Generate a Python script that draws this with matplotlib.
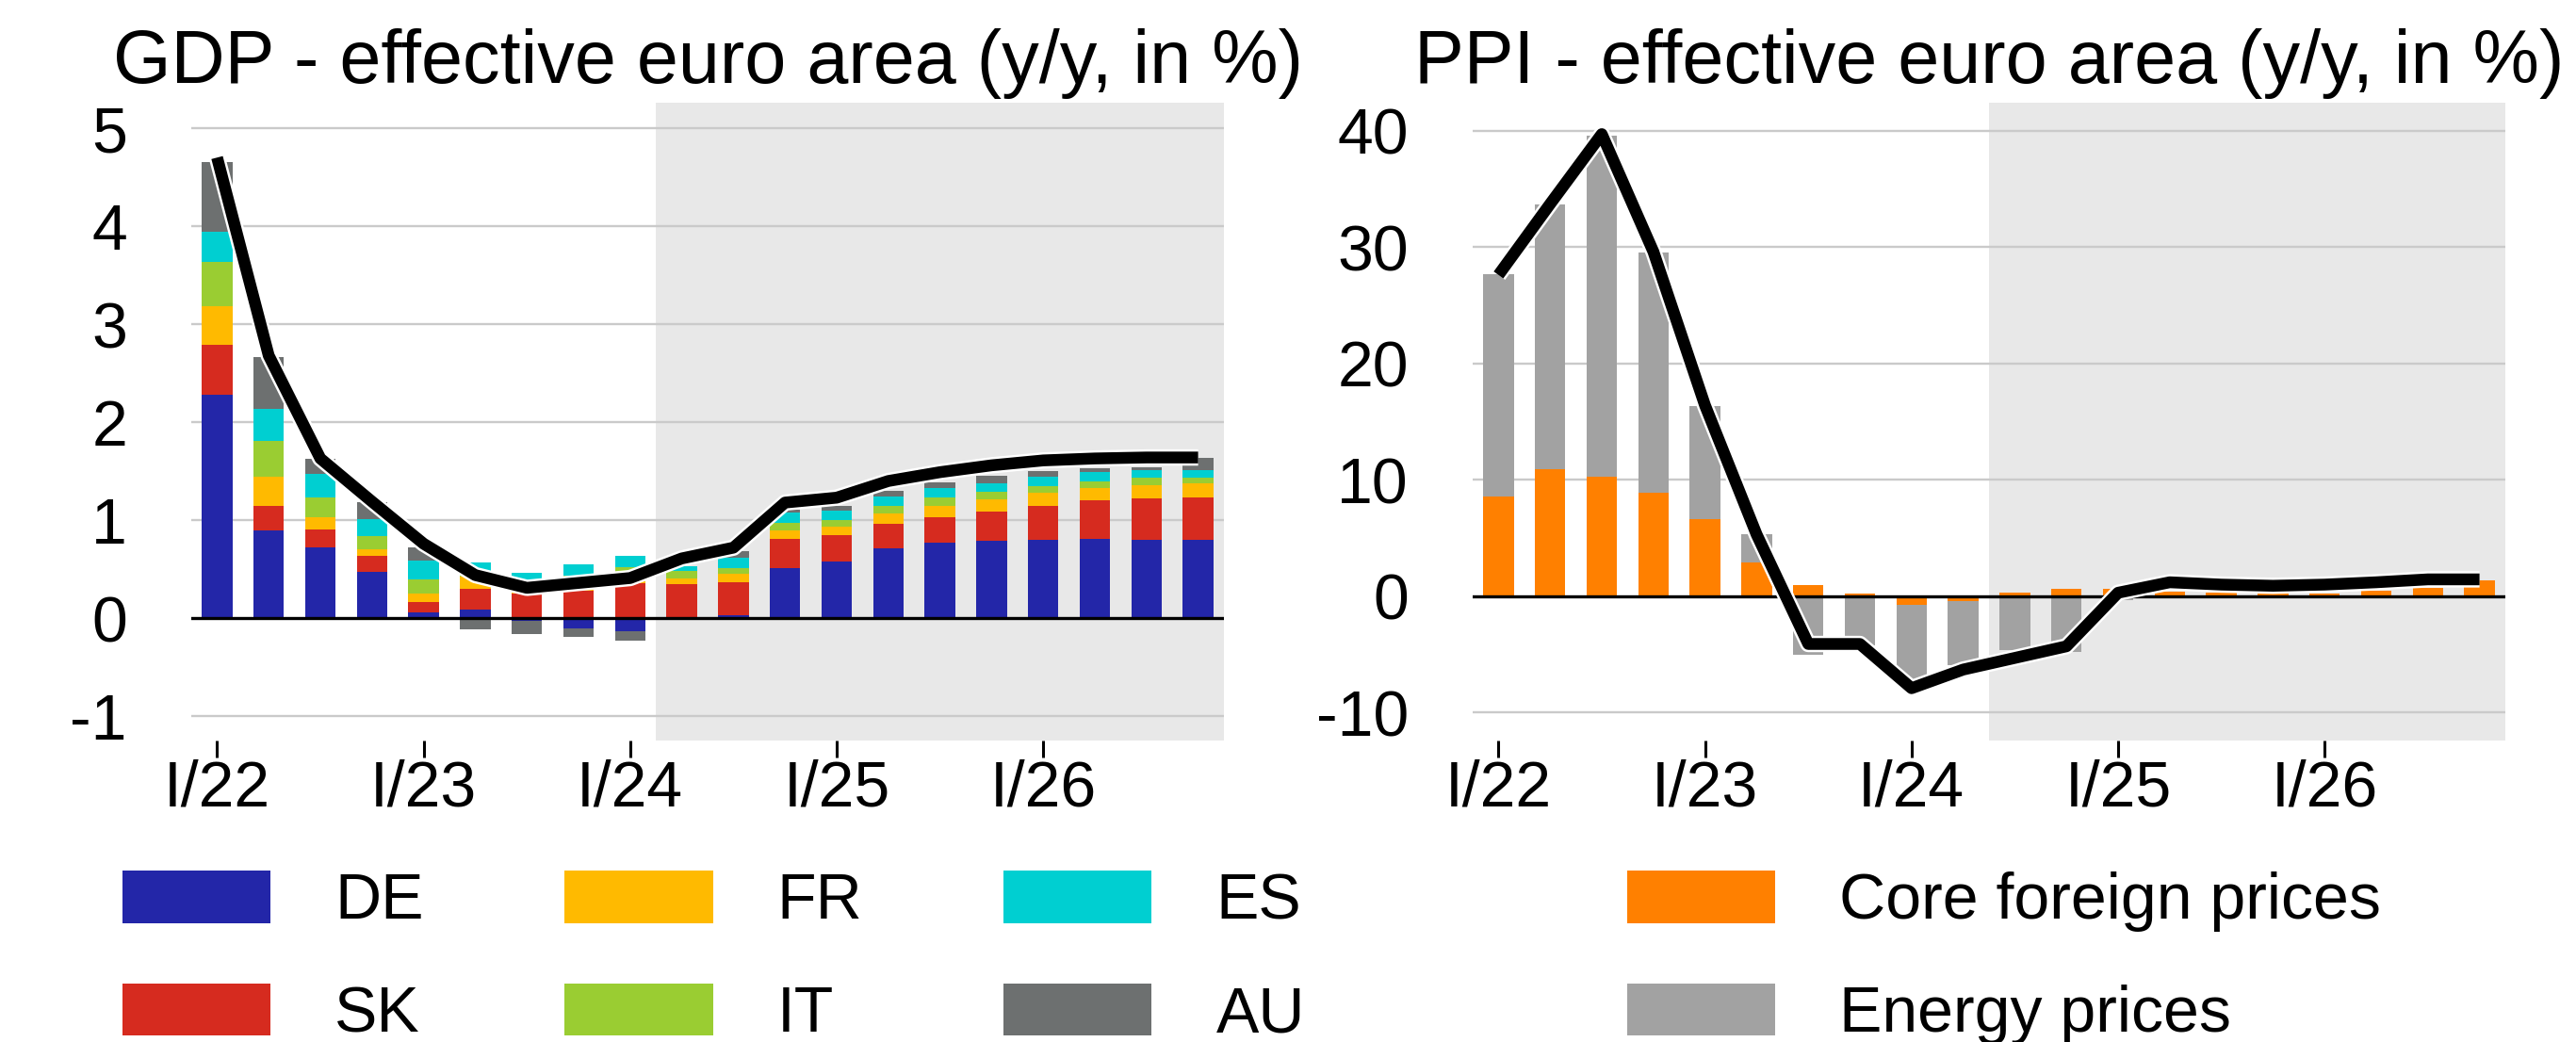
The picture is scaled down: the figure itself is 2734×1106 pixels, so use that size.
import matplotlib
matplotlib.use("Agg")
import matplotlib.pyplot as plt
import matplotlib.patheffects as pe
from matplotlib.patches import Patch
import numpy as np

plt.rcParams["font.family"] = ["Liberation Sans", "DejaVu Sans"]

# ---- data -------------------------------------------------------------
quarters = ["I/22", "II/22", "III/22", "IV/22", "I/23", "II/23", "III/23", "IV/23",
            "I/24", "II/24", "III/24", "IV/24", "I/25", "II/25", "III/25", "IV/25",
            "I/26", "II/26", "III/26", "IV/26"]
tick_labels = ["I/22", "I/23", "I/24", "I/25", "I/26"]

gdp_de = [2.28, 0.90, 0.72, 0.47, 0.06, 0.09, -0.03, -0.10, -0.13, -0.01,
          0.03, 0.51, 0.58, 0.71, 0.77, 0.79, 0.80, 0.81, 0.80, 0.80]
gdp_sk = [0.51, 0.25, 0.19, 0.17, 0.11, 0.21, 0.25, 0.28, 0.36, 0.35,
          0.34, 0.30, 0.27, 0.25, 0.26, 0.30, 0.35, 0.39, 0.42, 0.43]
gdp_fr = [0.39, 0.29, 0.12, 0.06, 0.08, 0.12, 0.08, 0.08, 0.09, 0.06,
          0.08, 0.09, 0.08, 0.11, 0.12, 0.12, 0.13, 0.13, 0.14, 0.15]
gdp_it = [0.46, 0.37, 0.20, 0.14, 0.15, 0.02, 0.04, 0.07, 0.07, 0.07,
          0.06, 0.07, 0.07, 0.08, 0.08, 0.08, 0.07, 0.07, 0.07, 0.05]
gdp_es = [0.30, 0.33, 0.24, 0.17, 0.19, 0.13, 0.09, 0.12, 0.12, 0.05,
          0.11, 0.11, 0.10, 0.09, 0.10, 0.09, 0.09, 0.09, 0.08, 0.08]
gdp_au = [0.71, 0.52, 0.16, 0.17, 0.13, -0.11, -0.13, -0.09, -0.10, 0.00,
          0.06, 0.03, 0.05, 0.06, 0.06, 0.07, 0.06, 0.04, 0.03, 0.13]
gdp_total = [4.70, 2.68, 1.63, 1.19, 0.76, 0.44, 0.31, 0.36, 0.41, 0.61,
             0.72, 1.18, 1.23, 1.40, 1.49, 1.56, 1.61, 1.63, 1.64, 1.64]

ppi_core = [8.6, 10.9, 10.25, 8.9, 6.6, 2.9, 1.0, 0.2, -0.7, -0.4,
            0.3, 0.6, 0.6, 0.4, 0.3, 0.2, 0.25, 0.5, 0.7, 1.35]
ppi_energy = [19.1, 22.75, 29.35, 20.6, 9.7, 2.4, -5.0, -4.2, -6.6, -5.5,
              -4.6, -4.8, -0.3, 0.0, 0.0, 0.0, 0.0, 0.0, 0.0, 0.0]
ppi_total = [27.6, 33.7, 39.7, 29.6, 16.4, 5.3, -4.1, -4.1, -7.9, -6.3,
             -5.3, -4.3, 0.3, 1.2, 1.0, 0.9, 1.0, 1.2, 1.45, 1.45]

gdp_series = [("DE", gdp_de, "#2326a8"), ("SK", gdp_sk, "#d62b1f"),
              ("FR", gdp_fr, "#ffba00"), ("IT", gdp_it, "#9acd32"),
              ("ES", gdp_es, "#00cfd1"), ("AU", gdp_au, "#6d7070")]
ppi_series = [("Core foreign prices", ppi_core, "#ff8000"),
              ("Energy prices", ppi_energy, "#a2a2a2")]

# ---- layout -----------------------------------------------------------
W, H = 2734, 1106
fig = plt.figure(figsize=(W / 100, H / 100), dpi=100)
ax_bottom = 1 - 785.7 / H
ax_height = (785.7 - 109) / H
ax1 = fig.add_axes([203 / W, ax_bottom, 1096 / W, ax_height])
ax2 = fig.add_axes([1563 / W, ax_bottom, 1096 / W, ax_height])

FS = 49
x = np.arange(len(quarters))
tick_pos = [quarters.index(t) for t in tick_labels]


def stacked(ax, series):
    pos = np.zeros(len(x))
    neg = np.zeros(len(x))
    for name, vals, color in series:
        v = np.asarray(vals, dtype=float)
        bottom = np.where(v >= 0, pos, neg)
        ax.bar(x, v, bottom=bottom, width=0.59, color=color, linewidth=0, zorder=2)
        pos = pos + np.where(v >= 0, v, 0)
        neg = neg + np.where(v < 0, v, 0)


def style(ax, ylim, grid, title, shade_from):
    ax.set_xlim(-0.5, len(x) - 0.5)
    ax.set_ylim(*ylim)
    ax.axvspan(shade_from, len(x) - 0.5, color="#e8e8e8", lw=0, zorder=0)
    for g in grid:
        ax.axhline(g, color="#cacaca", lw=1.7, zorder=0.5)
    ax.axhline(0, color="black", lw=2.4, zorder=3)
    for s in ax.spines.values():
        s.set_visible(False)
    ax.set_xticks(tick_pos)
    ax.set_xticklabels(tick_labels, fontsize=FS)
    ax.tick_params(axis="x", direction="out", length=13, width=2.2, pad=1, color="black")
    ax.set_yticks([g for g in grid] + [0])
    ax.tick_params(axis="y", length=0, pad=49, labelsize=FS)
    ax.set_title(title, fontsize=57, pad=15)


def total_line(ax, vals):
    ax.plot(x, vals, color="black", lw=9, solid_joinstyle="round", solid_capstyle="butt",
            zorder=4, path_effects=[pe.Stroke(linewidth=12.5, foreground="white"), pe.Normal()])


stacked(ax1, gdp_series)
total_line(ax1, gdp_total)
style(ax1, (-1.245, 5.26), [-1, 1, 2, 3, 4, 5],
      "GDP - effective euro area (y/y, in %)", 8.5)
ax1.set_yticklabels(["-1", "1", "2", "3", "4", "5", "0"])

stacked(ax2, ppi_series)
total_line(ax2, ppi_total)
style(ax2, (-12.37, 42.4), [-10, 10, 20, 30, 40],
      "PPI - effective euro area (y/y, in %)", 9.5)
ax2.set_yticklabels(["-10", "10", "20", "30", "40", "0"])

# ---- legends ----------------------------------------------------------
leg_kw = dict(frameon=False, fontsize=FS, handlelength=2.31, handleheight=0.88,
              handletextpad=1.0, labelspacing=0.8, borderpad=0, borderaxespad=0)
h1 = [Patch(facecolor=c, edgecolor="none") for _, _, c in gdp_series]
fig.legend(h1, [n for n, _, _ in gdp_series], loc="upper left",
           bbox_to_anchor=(130 / W, 1 - 924 / H), ncol=3, columnspacing=2.2, **leg_kw)
h2 = [Patch(facecolor=c, edgecolor="none") for _, _, c in ppi_series]
fig.legend(h2, [n for n, _, _ in ppi_series], loc="upper left",
           bbox_to_anchor=(1727 / W, 1 - 924 / H), ncol=1, **leg_kw)

fig.savefig("out.png", dpi=100)
